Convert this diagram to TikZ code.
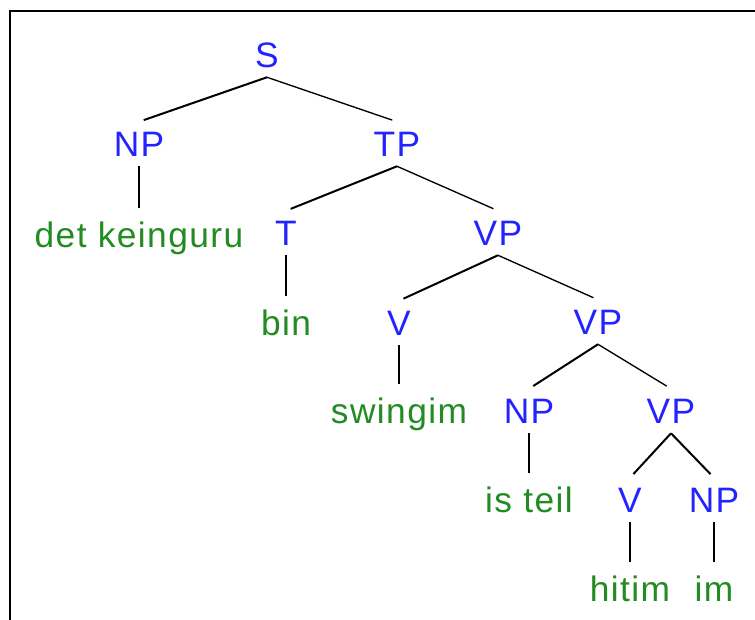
\documentclass[tikz,border=0pt]{standalone}
\usepackage{fontspec}
\setmainfont{Liberation Sans}[LetterSpace=4]
\usepackage{tikz}

\definecolor{catblue}{RGB}{35,35,255}
\definecolor{wordgreen}{RGB}{34,139,34}

\begin{document}
\begin{tikzpicture}[x=0.75pt,y=-0.75pt,
	cat/.style={text=catblue,font=\fontsize{26.5}{30}\selectfont,text height=19pt,text depth=0pt,inner xsep=0pt,inner ysep=7pt},
	word/.style={cat,text=wordgreen},
	branch/.style={line width=1.5pt,shorten >=3.75pt},
	rbranch/.style={line width=1pt,shorten >=3.75pt},
	stem/.style={line width=0.9pt,shorten >=3.75pt}]
	\useasboundingbox (0,0) rectangle (755,619);
	\draw [line width=1.5pt] (10.3,640) -- (10.3,11) -- (780,11);

	\node [cat] (S) at (267,55) {S};
	\node [cat] (NP) at (139,144) {NP};
	\node [cat] (TP) at (397,144) {TP};
	\node [word] (dk) at (139,235) {det keinguru};
	\node [cat] (T) at (286,233) {T};
	\node [cat] (VP) at (498,233) {VP};
	\node [word] (bin) at (286,323) {bin};
	\node [cat] (V) at (399,323) {V};
	\node [cat] (VPa) at (598,322) {VP};
	\node [word] (sw) at (399,411) {swingim};
	\node [cat] (NPa) at (529,411) {NP};
	\node [cat] (VPb) at (671,411) {VP};
	\node [word] (it) at (529,500) {is teil};
	\node [cat] (Vb) at (630,500) {V};
	\node [cat] (NPb) at (714,500) {NP};
	\node [word] (hit) at (630,589) {hitim};
	\node [word] (im) at (714,589) {im};

	\path [branch] (S.south) edge (NP.north);
	\path [rbranch] (S.south) edge (TP.north);
	\path [stem] (NP.south) edge (dk.north);
	\path [branch] (TP.south) edge (T.north);
	\path [rbranch] (TP.south) edge (VP.north);
	\path [stem] (T.south) edge (bin.north);
	\path [branch] (VP.south) edge (V.north);
	\path [rbranch] (VP.south) edge (VPa.north);
	\path [stem] (V.south) edge (sw.north);
	\path [branch] (VPa.south) edge (NPa.north);
	\path [rbranch] (VPa.south) edge (VPb.north);
	\path [stem] (NPa.south) edge (it.north);
	\path [branch] (VPb.south) edge (Vb.north);
	\path [branch] (VPb.south) edge (NPb.north);
	\path [stem] (Vb.south) edge (hit.north);
	\path [stem] (NPb.south) edge (im.north);
\end{tikzpicture}
\end{document}
